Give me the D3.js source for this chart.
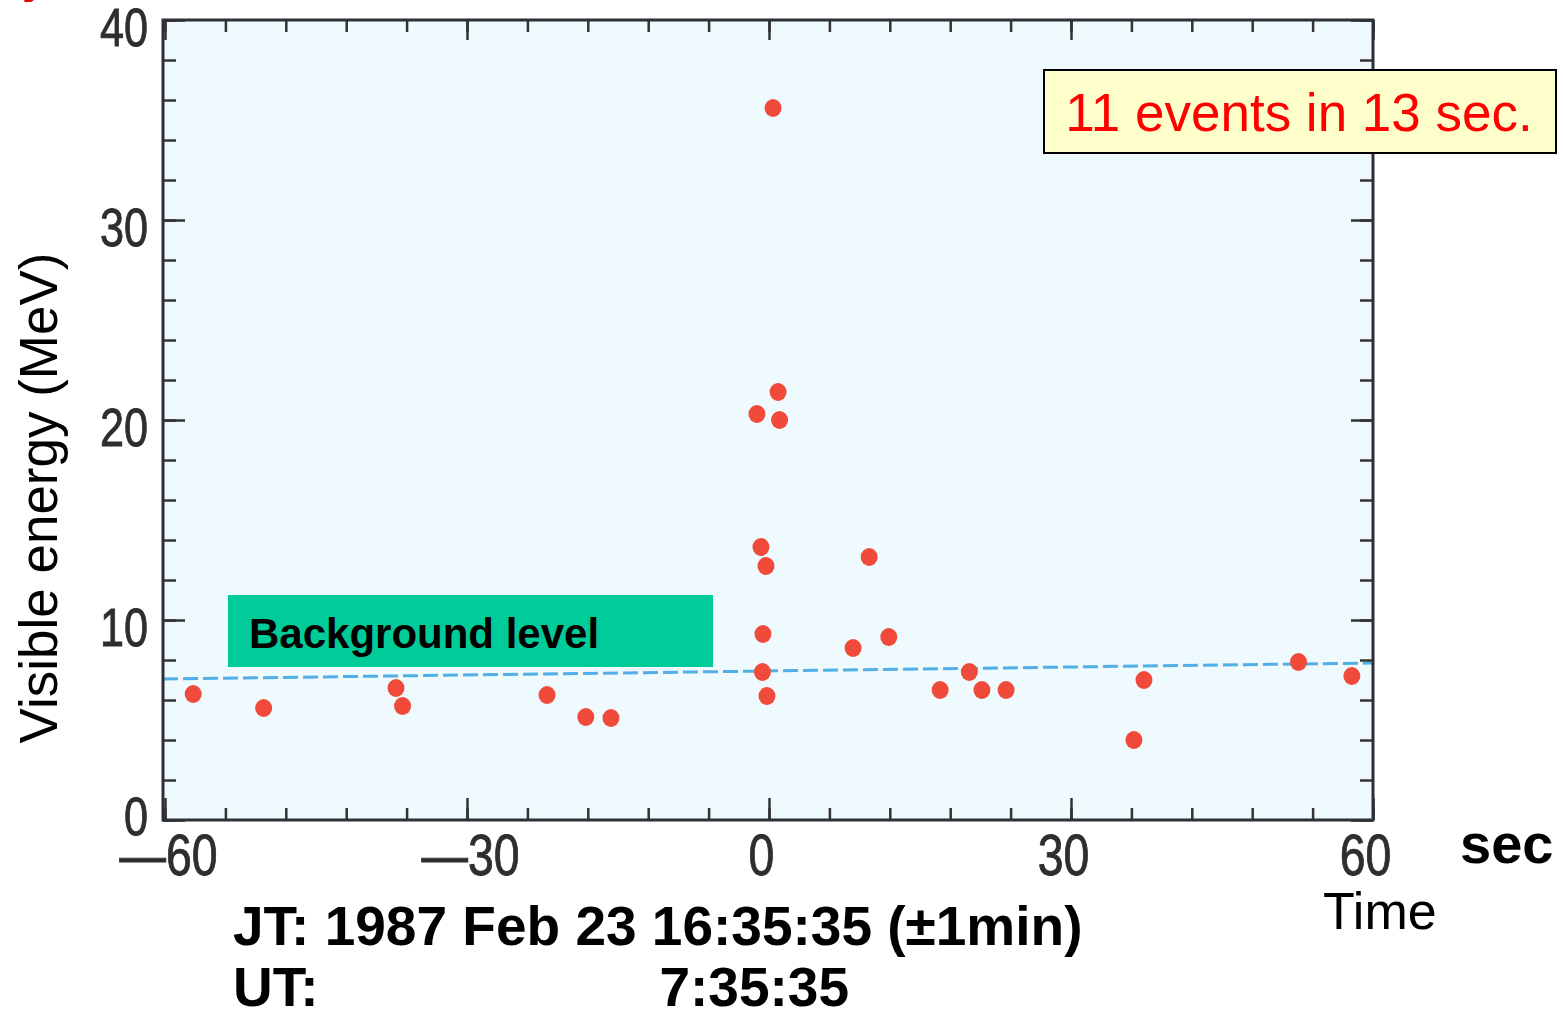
<!DOCTYPE html>
<html>
<head>
<meta charset="utf-8">
<script src="https://cdn.jsdelivr.net/npm/d3@7"></script>
<style>
  body { margin: 0; background: #fff; }
  .tick text { font-family: "Liberation Sans", Arial, sans-serif; fill: #2e2e2e; stroke: #2e2e2e; stroke-width: 0.9px; }
</style>
</head>
<body>
<script>
const width = 1563;
const height = 1010;

// data: time (s) and visible energy (MeV)
const eventTimes = [-57.2, -50.2, -37.05, -36.4, -22.05, -18.2, -15.7,
    0.4, -1.2, 0.9, 1.05, -0.8, -0.3, -0.6, -0.65, -0.2,
    8.35, 9.95, 11.9, 17.0, 19.9, 21.15, 23.55, 36.25, 37.25, 52.6, 57.9];
const eventEnergies = [6.3, 5.6, 6.6, 5.7, 6.25, 5.15, 5.1,
    35.6, 20.3, 21.4, 20.0, 13.65, 12.7, 9.3, 7.4, 6.2,
    8.6, 13.15, 9.15, 6.5, 7.4, 6.5, 6.5, 4.0, 7.0, 7.9, 7.2];

const backgroundTimes = [-60, 60];
const backgroundLevel = [7.05, 7.85];

const xMajorTicks = [-60, -30, 0, 30, 60];
const xMinorTicks = d3.range(-60, 61, 6);
const yMajorTicks = [0, 10, 20, 30, 40];
const yMinorTicks = d3.range(0, 41, 2);

const narrow = 0.8;   // condensed look of the tick labels

let svg = d3.select("body").append("svg")
    .attr("width", width)
    .attr("height", height);

let xScale = d3.scaleLinear()
    .domain([-60, 60])
    .range([165, 1373]);

let yScale = d3.scaleLinear()
    .domain([0, 40])
    .range([820, 20]);

// plot background
svg.append("rect")
    .attr("x", 163)
    .attr("y", yScale(40))
    .attr("width", 1373 - 163)
    .attr("height", yScale(0) - yScale(40))
    .attr("fill", "#eefafd");

// cut-off red title at the very top
svg.append("text")
    .attr("x", 22)
    .attr("y", -8)
    .style("font-family", "Liberation Sans, Arial, sans-serif")
    .style("font-weight", "bold")
    .style("font-size", "46px")
    .attr("fill", "#e00000")
    .text("y");

// background level dashed line
svg.append("line")
    .attr("x1", 163)
    .attr("x2", xScale(backgroundTimes[1]))
    .attr("y1", yScale(backgroundLevel[0]))
    .attr("y2", yScale(backgroundLevel[1]))
    .attr("stroke", "#52aee6")
    .attr("stroke-width", 3)
    .attr("stroke-dasharray", "15,5");

// axes, ticks pointing inward on all four sides
function styleAxis(g) {
    g.select(".domain").remove();
    g.selectAll(".tick line").attr("stroke", "#333").attr("stroke-width", 2.5);
}

svg.append("g")
    .attr("transform", "translate(0,820)")
    .call(d3.axisBottom(xScale).tickValues(xMinorTicks).tickSize(-12).tickFormat(""))
    .call(styleAxis);

let xAxis = svg.append("g")
    .attr("transform", "translate(0,820)")
    .call(d3.axisBottom(xScale).tickValues(xMajorTicks).tickSize(-22).tickPadding(14)
        .tickFormat(d => d < 0 ? "\u2014" + Math.abs(d) : d))
    .call(styleAxis);
xAxis.selectAll(".tick text")
    .style("font-size", "58px")
    .attr("x", d => (d < 0 ? 3 : -8) / narrow)
    .attr("transform", `scale(${narrow},1)`);

svg.append("g")
    .attr("transform", "translate(0," + yScale(40) + ")")
    .call(d3.axisTop(xScale).tickValues(xMinorTicks).tickSize(-12).tickFormat(""))
    .call(styleAxis);
svg.append("g")
    .attr("transform", "translate(0," + yScale(40) + ")")
    .call(d3.axisTop(xScale).tickValues(xMajorTicks).tickSize(-20).tickFormat(""))
    .call(styleAxis);

svg.append("g")
    .attr("transform", "translate(163,0)")
    .call(d3.axisLeft(yScale).tickValues(yMinorTicks).tickSize(-13).tickFormat(""))
    .call(styleAxis);

let yAxis = svg.append("g")
    .attr("transform", "translate(163,0)")
    .call(d3.axisLeft(yScale).tickValues(yMajorTicks).tickSize(-22))
    .call(styleAxis);
yAxis.selectAll(".tick text")
    .style("font-size", "54px")
    .attr("x", -15 / narrow)
    .attr("dy", d => d === 0 ? "0.26em" : "0.48em")
    .attr("transform", `scale(${narrow},1)`);

svg.append("g")
    .attr("transform", "translate(1373,0)")
    .call(d3.axisRight(yScale).tickValues(yMinorTicks).tickSize(-13).tickFormat(""))
    .call(styleAxis);
svg.append("g")
    .attr("transform", "translate(1373,0)")
    .call(d3.axisRight(yScale).tickValues(yMajorTicks).tickSize(-22).tickFormat(""))
    .call(styleAxis);

// frame
svg.append("rect")
    .attr("x", 163)
    .attr("y", yScale(40))
    .attr("width", 1373 - 163)
    .attr("height", yScale(0) - yScale(40))
    .attr("fill", "none")
    .attr("stroke", "#2f2f3a")
    .attr("stroke-width", 3);

// background level label
svg.append("rect")
    .attr("x", 228)
    .attr("y", 595)
    .attr("width", 485)
    .attr("height", 72)
    .attr("fill", "#00cc99");
svg.append("text")
    .attr("x", 249)
    .attr("y", 648)
    .style("font-family", "Liberation Sans, Arial, sans-serif")
    .style("font-weight", "bold")
    .style("font-size", "42px")
    .attr("fill", "#000")
    .text("Background level");

// events
svg.selectAll(".event")
    .data(eventTimes.map((t, i) => ({ t: t, e: eventEnergies[i] })))
    .enter()
    .append("ellipse")
    .attr("class", "event")
    .attr("cx", d => xScale(d.t))
    .attr("cy", d => yScale(d.e))
    .attr("rx", 8.5)
    .attr("ry", 9)
    .attr("fill", "#f04b3a");

// annotation box
svg.append("rect")
    .attr("x", 1044)
    .attr("y", 70)
    .attr("width", 512)
    .attr("height", 83)
    .attr("fill", "#ffffcc")
    .attr("stroke", "#000")
    .attr("stroke-width", 2);
svg.append("text")
    .attr("x", 1299)
    .attr("y", 131)
    .attr("text-anchor", "middle")
    .style("font-family", "Liberation Sans, Arial, sans-serif")
    .style("font-size", "53px")
    .attr("fill", "#ff0000")
    .text("11 events in 13 sec.");

// axis titles
svg.append("text")
    .attr("text-anchor", "middle")
    .attr("transform", "translate(57,498) rotate(-90)")
    .style("font-family", "Liberation Sans, Arial, sans-serif")
    .style("font-size", "53px")
    .attr("fill", "#000")
    .text("Visible energy (MeV)");

svg.append("text")
    .attr("x", 1460)
    .attr("y", 863)
    .style("font-family", "Liberation Sans, Arial, sans-serif")
    .style("font-weight", "bold")
    .style("font-size", "56px")
    .attr("fill", "#000")
    .text("sec");

svg.append("text")
    .attr("x", 1323)
    .attr("y", 929)
    .style("font-family", "Liberation Sans, Arial, sans-serif")
    .style("font-size", "52px")
    .attr("fill", "#000")
    .text("Time");

// time stamps
svg.append("text")
    .attr("x", 233)
    .attr("y", 945)
    .style("font-family", "Liberation Sans, Arial, sans-serif")
    .style("font-weight", "bold")
    .style("font-size", "55px")
    .attr("fill", "#000")
    .text("JT: 1987 Feb 23 16:35:35 (\u00b11min)");

svg.append("text")
    .attr("x", 233)
    .attr("y", 1006)
    .style("font-family", "Liberation Sans, Arial, sans-serif")
    .style("font-weight", "bold")
    .style("font-size", "55px")
    .attr("fill", "#000")
    .text("UT:");

svg.append("text")
    .attr("x", 849)
    .attr("y", 1006)
    .attr("text-anchor", "end")
    .style("font-family", "Liberation Sans, Arial, sans-serif")
    .style("font-weight", "bold")
    .style("font-size", "55px")
    .attr("fill", "#000")
    .text("7:35:35");
</script>
</body>
</html>
